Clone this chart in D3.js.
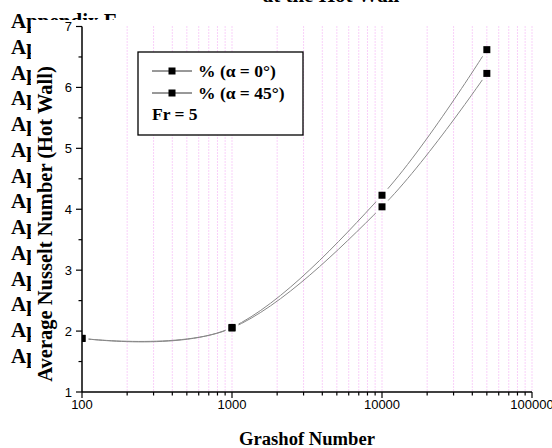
<!DOCTYPE html>
<html><head><meta charset="utf-8">
<script src="https://cdn.jsdelivr.net/npm/d3@7"></script>
<style>body{margin:0;background:#fff}svg{display:block}</style>
</head><body>
<svg id="c" width="552" height="448"></svg>
<script>
const grashof = [100, 1000, 10000, 50000];
const nuAlpha0 = [1.88, 2.06, 4.23, 6.62];
const nuAlpha45 = [1.88, 2.05, 4.04, 6.23];
const seriesNames = ["% (\u03B1 = 0\u00B0)", "% (\u03B1 = 45\u00B0)"];
const noteText = "Fr = 5";
const yTicks = [1, 2, 3, 4, 5, 6, 7];
const xTicks = [100, 1000, 10000, 100000];
const xTitle = "Grashof Number";
const yTitle = "Average Nusselt Number (Hot Wall)";
const pageTitle = "at the Hot Wall";
const pageRows = ["Appendix F","Appendix F","Appendix F","Appendix F","Appendix F","Appendix F","Appendix F",
                  "Appendix F","Appendix F","Appendix F","Appendix F","Appendix F","Appendix F","Appendix F"];

const svg = d3.select("#c");
const serif = "'Liberation Serif','Times New Roman',serif";
const sans = "'Liberation Sans',Arial,sans-serif";

// underlying page text
svg.append("text").attr("x", 331).attr("y", 2).attr("text-anchor", "middle")
  .style("font-family", serif).style("font-weight", "bold").style("font-size", "21px").text(pageTitle);
pageRows.forEach((t, i) => {
  svg.append("text").attr("x", 11).attr("y", 28 + i * 25.77)
    .style("font-family", serif).style("font-weight", "bold").style("font-size", "21px").text(t);
});
// chart image background
svg.append("rect").attr("x", 31).attr("y", 20).attr("width", 521).attr("height", 428).attr("fill", "#fff");

const L = 82, R = 532, T = 26.5, B = 392;
const x = d3.scaleLog().domain([100, 100000]).range([L, R]);
const y = d3.scaleLinear().domain([1, 7]).range([B, T]);

// grid lines
const gridVals = [];
for (let e = 2; e <= 5; e++) for (let d = 1; d <= 9; d++) { const v = d * Math.pow(10, e); if (v <= 100000) gridVals.push(v); }
svg.append("g").selectAll("line").data(gridVals.filter(v => v > 100)).join("line")
  .attr("x1", d => x(d)).attr("x2", d => x(d)).attr("y1", T).attr("y2", B)
  .attr("stroke", "#f2a2f2").attr("stroke-width", 1).attr("stroke-dasharray", "1,2");

// series
const series = [nuAlpha0, nuAlpha45];
const defs = svg.append("defs");
defs.append("clipPath").attr("id", "plotclip").append("rect")
  .attr("x", L).attr("y", T - 10).attr("width", R - L + 10).attr("height", B - T + 10);
series.forEach((vals, si) => {
  const m = defs.append("mask").attr("id", "m" + si).attr("maskUnits", "userSpaceOnUse")
    .attr("x", 0).attr("y", 0).attr("width", 552).attr("height", 448);
  m.append("rect").attr("width", 552).attr("height", 448).attr("fill", "#fff");
  grashof.forEach((g, i) => {
    m.append("rect").attr("x", x(g) - 6.5).attr("y", y(vals[i]) - 6.5).attr("width", 13).attr("height", 13).attr("fill", "#000");
  });
});
const line = d3.line().x((d, i) => x(grashof[i])).y(d => y(d)).curve(d3.curveCardinal.tension(0));
const plot = svg.append("g").attr("clip-path", "url(#plotclip)");
series.forEach((vals, si) => {
  plot.append("path").attr("d", line(vals)).attr("fill", "none").attr("stroke", "#888")
    .attr("stroke-width", 1).attr("mask", "url(#m" + si + ")");
});
series.forEach((vals) => {
  plot.append("g").selectAll("rect").data(vals).join("rect")
    .attr("x", (d, i) => x(grashof[i]) - 3.5).attr("y", d => y(d) - 3.5)
    .attr("width", 7).attr("height", 7).attr("fill", "#000");
});

// axes
const yMinor = d3.range(1.5, 7, 1);
const gy = svg.append("g");
gy.append("line").attr("x1", L).attr("x2", L).attr("y1", T).attr("y2", B).attr("stroke", "#000").attr("stroke-width", 1.5);
gy.selectAll(".mj").data(yTicks).join("line").attr("x1", L - 6).attr("x2", L).attr("y1", d => y(d)).attr("y2", d => y(d)).attr("stroke", "#000").attr("stroke-width", 1.2);
gy.selectAll(".mn").data(yMinor).join("line").attr("class", "mn").attr("x1", L - 3.5).attr("x2", L).attr("y1", d => y(d)).attr("y2", d => y(d)).attr("stroke", "#000").attr("stroke-width", 1.2);
gy.selectAll("text").data(yTicks).join("text").attr("x", L - 10).attr("y", d => y(d) + 4.5).attr("text-anchor", "end")
  .style("font-family", sans).style("font-size", "13px").text(d => d);

const gx = svg.append("g");
gx.append("line").attr("x1", L).attr("x2", R).attr("y1", B).attr("y2", B).attr("stroke", "#000").attr("stroke-width", 1.5);
gx.selectAll(".mn").data(gridVals.filter(v => xTicks.indexOf(v) < 0)).join("line").attr("class", "mn")
  .attr("x1", d => x(d)).attr("x2", d => x(d)).attr("y1", B).attr("y2", B + 3.5).attr("stroke", "#000").attr("stroke-width", 1.2);
gx.selectAll(".mj").data(xTicks).join("line").attr("class", "mj")
  .attr("x1", d => x(d)).attr("x2", d => x(d)).attr("y1", B).attr("y2", B + 6).attr("stroke", "#000").attr("stroke-width", 1.2);
gx.selectAll("text").data(xTicks).join("text").attr("x", d => x(d)).attr("y", B + 17).attr("text-anchor", "middle")
  .style("font-family", sans).style("font-size", "13px").text(d => d);

// titles
svg.append("text").attr("x", 307).attr("y", 445).attr("text-anchor", "middle")
  .style("font-family", serif).style("font-weight", "bold").style("font-size", "18.6px").text(xTitle);
svg.append("text").attr("transform", "translate(52,224) rotate(-90)").attr("text-anchor", "middle")
  .style("font-family", serif).style("font-weight", "bold").style("font-size", "20.5px").text(yTitle);

// legend
const lg = svg.append("g");
lg.append("rect").attr("x", 138).attr("y", 52).attr("width", 165).attr("height", 83).attr("fill", "#fff").attr("stroke", "#000").attr("stroke-width", 1.3);
seriesNames.forEach((n, i) => {
  const yy = 71 + i * 22;
  lg.append("line").attr("x1", 152).attr("x2", 192).attr("y1", yy).attr("y2", yy).attr("stroke", "#333").attr("stroke-width", 1);
  lg.append("rect").attr("x", 168.5).attr("y", yy - 3.5).attr("width", 7).attr("height", 7).attr("fill", "#000");
  lg.append("text").attr("x", 198).attr("y", yy + 6).style("font-family", serif).style("font-weight", "bold").style("font-size", "17.5px").text(n);
});
lg.append("text").attr("x", 152).attr("y", 120).style("font-family", serif).style("font-weight", "bold").style("font-size", "17.5px").text(noteText);
</script>
</body></html>
